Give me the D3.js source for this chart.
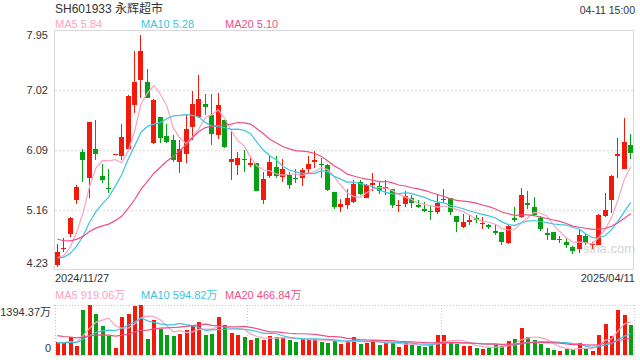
<!DOCTYPE html>
<html><head><meta charset="utf-8">
<script src="https://cdn.jsdelivr.net/npm/d3@7"></script>
<style>
html,body{margin:0;padding:0;background:#fff;}
svg{display:block;font-family:Arial,"Liberation Sans","Noto Sans CJK SC",sans-serif;}
</style></head>
<body><svg id="c" width="640" height="360"></svg>
<script>
// ---------- data ----------
const dates = [
"2024-11-27","2024-11-28","2024-11-29",
"2024-12-02","2024-12-03","2024-12-04","2024-12-05","2024-12-06","2024-12-09","2024-12-10","2024-12-11","2024-12-12","2024-12-13",
"2024-12-16","2024-12-17","2024-12-18","2024-12-19","2024-12-20","2024-12-23","2024-12-24","2024-12-25","2024-12-26","2024-12-27","2024-12-30","2024-12-31",
"2025-01-02","2025-01-03","2025-01-06","2025-01-07","2025-01-08","2025-01-09","2025-01-10","2025-01-13","2025-01-14","2025-01-15","2025-01-16","2025-01-17",
"2025-01-20","2025-01-21","2025-01-22","2025-01-23","2025-01-24","2025-01-27",
"2025-02-05","2025-02-06","2025-02-07","2025-02-10","2025-02-11","2025-02-12","2025-02-13","2025-02-14","2025-02-17","2025-02-18","2025-02-19","2025-02-20","2025-02-21",
"2025-02-24","2025-02-25","2025-02-26","2025-02-27","2025-02-28",
"2025-03-03","2025-03-04","2025-03-05","2025-03-06","2025-03-07","2025-03-10","2025-03-11","2025-03-12","2025-03-13","2025-03-14",
"2025-03-17","2025-03-18","2025-03-19","2025-03-20","2025-03-21","2025-03-24","2025-03-25","2025-03-26","2025-03-27","2025-03-28","2025-03-31",
"2025-04-01","2025-04-02","2025-04-03","2025-04-07","2025-04-08","2025-04-09","2025-04-10","2025-04-11"];

const open = [4.31,4.55,4.79,5.31,6.06,5.66,6.11,5.69,5.50,6.03, 6.00,6.11,6.78,7.17,7.14,6.20,6.60,6.31,6.24,5.91,
 6.03,6.44,6.60,6.80,6.64,6.32,6.56,5.91,5.86,5.95, 5.86,5.89,5.31,5.68,5.82,5.67,5.71,5.66,5.65,5.80,
 5.90,5.88,5.86,5.44,5.21,5.24,5.28,5.60,5.35,5.55, 5.53,5.48,5.48,5.23,5.25,5.34,5.23,5.17,5.14,5.13,
 5.31,5.35,5.06,4.90,4.97,5.03,4.95,4.92,4.83,4.82, 4.65,5.04,5.05,5.27,5.20,5.04,4.80,4.82,4.70,4.67,
 4.59,4.56,4.75,4.61,4.62,5.06,5.31,6.00,5.80,6.16];
const high = [4.63,4.72,5.05,5.55,6.10,6.53,6.56,5.87,5.80,6.03, 6.50,6.95,7.62,7.88,7.35,6.88,6.60,6.50,6.33,6.25,
 6.65,7.00,7.26,6.96,6.96,6.97,6.56,6.39,6.06,6.09, 5.99,5.89,5.75,6.00,6.00,5.95,5.75,5.79,5.81,6.00,
 6.07,5.97,5.87,5.44,5.33,5.49,5.63,5.62,5.56,5.73, 5.60,5.63,5.48,5.31,5.45,5.39,5.32,5.29,5.24,5.41,
 5.49,5.35,5.06,5.10,5.09,5.08,5.05,4.94,4.93,4.82, 4.92,5.21,5.50,5.45,5.36,5.06,4.88,4.82,4.75,4.73,
 4.60,4.87,4.79,4.67,5.10,5.42,5.71,6.28,6.59,6.34];
const low = [4.28,4.51,4.74,5.26,5.60,5.35,5.93,5.58,5.43,6.03, 5.93,6.10,6.66,6.90,6.89,6.19,6.20,6.20,5.90,5.74,
 5.89,6.24,6.59,6.63,6.16,6.26,6.12,5.62,5.70,5.75, 5.82,5.45,5.26,5.65,5.65,5.60,5.49,5.58,5.53,5.72,
 5.81,5.66,5.45,5.18,5.13,5.17,5.27,5.39,5.34,5.45, 5.41,5.40,5.19,5.13,5.21,5.19,5.19,5.13,5.01,5.10,
 5.27,5.08,4.82,4.88,4.93,4.96,4.87,4.87,4.77,4.62, 4.63,4.98,5.04,5.17,5.06,4.84,4.69,4.69,4.65,4.57,
 4.48,4.49,4.62,4.56,4.61,5.05,5.11,5.66,5.79,5.95];
const close = [4.51,4.57,5.03,5.52,5.94,6.53,6.03,5.62,5.49,6.03, 6.29,6.93,7.14,7.62,6.89,6.87,6.27,6.22,5.93,6.11,
 6.41,6.80,6.88,6.76,6.34,6.78,6.13,5.95,5.97,5.94, 5.89,5.46,5.64,5.91,5.69,5.80,5.55,5.65,5.78,5.87,
 5.94,5.86,5.47,5.20,5.26,5.35,5.56,5.41,5.55,5.58, 5.45,5.51,5.23,5.24,5.37,5.27,5.21,5.15,5.13,5.27,
 5.33,5.13,4.97,4.97,5.01,5.01,4.96,4.90,4.81,4.67, 4.91,5.00,5.39,5.23,5.09,4.86,4.77,4.70,4.71,4.61,
 4.52,4.77,4.65,4.63,5.08,5.16,5.68,6.03,6.21,6.05];
// volume, in 万 shares
const volume = [372,325,493,251,1255,1394.37,1153,809,530,195, 1060,1153,1376,1390,446,976,734,558,530,595,
 697,837,920,558,595,1060,837,623,558,502, 428,474,418,530,502,493,418,372,446,446,
 437,372,344,400,307,390,493,307,325,418, 279,344,344,223,325,279,251,223,279,558,
 558,344,307,251,251,186,167,205,279,251, 390,446,753,502,418,307,195,139,112,167,
 149,335,167,112,558,874,530,1255,1115,837];
// closes and volumes of the 19 sessions before the window (estimated from where the MA lines start)
const priorClose = [5.10,5.05,5.08,5.02,4.98,5.00,4.95,4.92,4.96,4.94, 4.50,4.45,4.40,4.38,4.36, 4.42,4.38,4.40,4.40];
const priorVolume = [800,760,700,820,690,750,700,680,720,720, 360,330,350,340,340, 320,350,330,348];

const priceTicks = [7.95,7.02,6.09,5.16,4.23];
const volTickLabels = ["1394.37万","0"];
const title = "SH601933 永辉超市";
const timeLabel = "04-11 15:00";
const maPeriods = [5,10,20];
const maPriceLabels = ["MA5 5.84","MA10 5.28","MA20 5.10"];
const maVolLabels = ["MA5 919.06万","MA10 594.82万","MA20 466.84万"];

// ---------- styles ----------
const UP = "#f31a0b", DOWN = "#07a014";
const maColors = ["#fba3c0","#3bc5e3","#ef4f86"];

const svg = d3.select("#c");
const L = 54, R = 634, T = 30, B = 270;
const VT = 305, VB = 355;

const x = d3.scaleBand().domain(dates).range([L, R]).paddingInner(0.22).paddingOuter(0.11);
const y = d3.scaleLinear().domain([4.23, 7.95]).range([B, T]);
const yv = d3.scaleLinear().domain([0, d3.max(volume)]).range([VB, VT]);
const cx = d => x(d) + x.bandwidth() / 2;

function movingAvg(prior, vals, n) {
  const all = prior.concat(vals);
  const off = prior.length;
  return vals.map((v, i) => d3.mean(all.slice(off + i - n + 1, off + i + 1)));
}

// header texts
svg.append("text").attr("x", 55).attr("y", 13).attr("font-size", 12).attr("fill", "#333").text(title);
svg.append("text").attr("x", 635).attr("y", 14).attr("text-anchor", "end").attr("font-size", 10.5).attr("fill", "#333").text(timeLabel);
const labelX = [55, 141, 225];
maPriceLabels.forEach((t, k) => svg.append("text").attr("x", labelX[k]).attr("y", 28).attr("font-size", 11).attr("fill", maColors[k]).text(t));

// main frame + grid
svg.append("rect").attr("x", L + 0.5).attr("y", T + 0.5).attr("width", R - L - 1).attr("height", B - T - 1)
  .attr("fill", "none").attr("stroke", "#d8d8d8");
svg.append("g").selectAll("line").data(priceTicks.slice(1, -1)).join("line")
  .attr("x1", L + 1).attr("x2", R - 1).attr("y1", d => Math.round(y(d)) + 0.5).attr("y2", d => Math.round(y(d)) + 0.5)
  .attr("stroke", "#e2e2e2").attr("stroke-width", 1.5).attr("stroke-dasharray", "2,2");

// y axis
const yAxis = svg.append("g").attr("transform", `translate(${L - 3},0)`)
  .call(d3.axisLeft(y).tickValues(priceTicks).tickSize(0).tickFormat(d3.format(".2f")));
yAxis.select(".domain").remove();
yAxis.selectAll(".tick").attr("transform", d => `translate(0,${Math.min(Math.max(y(d), T + 5.5), B - 6.5)})`);
yAxis.selectAll("text").attr("font-size", 11).attr("fill", "#333").attr("font-family", "Arial,'Liberation Sans',sans-serif");

// watermark
svg.append("text").attr("x", 583).attr("y", 253).attr("font-size", 13).attr("fill", "#d4d4d4").text("sina.com");

// candles
const idx = d3.range(dates.length);
const isUp = i => close[i] >= open[i];
const g = svg.append("g").attr("shape-rendering", "crispEdges");
g.selectAll("line.w").data(idx).join("line").attr("class", "w")
  .attr("x1", i => Math.floor(cx(dates[i])) + 0.5).attr("x2", i => Math.floor(cx(dates[i])) + 0.5)
  .attr("y1", i => y(high[i])).attr("y2", i => y(low[i]))
  .attr("stroke", i => isUp(i) ? UP : DOWN);
g.selectAll("rect.b").data(idx).join("rect").attr("class", "b")
  .attr("x", i => Math.floor(cx(dates[i])) - 2).attr("width", 5)
  .attr("y", i => Math.min(y(open[i]), y(close[i])))
  .attr("height", i => Math.max(1, Math.abs(y(open[i]) - y(close[i]))))
  .attr("fill", i => isUp(i) ? UP : DOWN);

// price MA lines
const lineP = d3.line().x((d, i) => cx(dates[i])).y(d => y(d));
maPeriods.forEach((n, k) => {
  svg.append("path").datum(movingAvg(priorClose, close, n)).attr("d", lineP)
    .attr("fill", "none").attr("stroke", maColors[k]).attr("stroke-width", 1.2);
});

// date labels
svg.append("text").attr("x", 55).attr("y", 282).attr("font-size", 11).attr("fill", "#333").text(dates[0].replace(/-/g, "/"));
svg.append("text").attr("x", 635).attr("y", 282).attr("text-anchor", "end").attr("font-size", 11).attr("fill", "#333").text(dates[dates.length - 1].replace(/-/g, "/"));

// volume panel
maVolLabels.forEach((t, k) => svg.append("text").attr("x", labelX[k]).attr("y", 299).attr("font-size", 11).attr("fill", maColors[k]).text(t));
const vg = svg.append("g").attr("stroke", "#c8c8c8").attr("stroke-dasharray", "1,2").attr("fill", "none");
vg.append("line").attr("x1", L).attr("x2", R).attr("y1", VT + 0.5).attr("y2", VT + 0.5);
vg.append("line").attr("x1", L).attr("x2", R).attr("y1", VB + 0.5).attr("y2", VB + 0.5);
[L + 0.5, L + (R - L) / 3, L + 2 * (R - L) / 3, R - 0.5].forEach(xx =>
  vg.append("line").attr("x1", Math.round(xx) + 0.5).attr("x2", Math.round(xx) + 0.5).attr("y1", VT).attr("y2", VB));
svg.append("text").attr("x", 51).attr("y", 316).attr("text-anchor", "end").attr("font-size", 11).attr("fill", "#333").text(volTickLabels[0]);
svg.append("text").attr("x", 51).attr("y", 352).attr("text-anchor", "end").attr("font-size", 11).attr("fill", "#333").text(volTickLabels[1]);

svg.append("g").attr("shape-rendering", "crispEdges").selectAll("rect").data(idx).join("rect")
  .attr("x", i => Math.floor(cx(dates[i])) - 1.5).attr("width", 4)
  .attr("y", i => yv(volume[i])).attr("height", i => VB - yv(volume[i]))
  .attr("fill", i => isUp(i) ? UP : DOWN);

const lineV = d3.line().x((d, i) => cx(dates[i])).y(d => yv(d));
maPeriods.forEach((n, k) => {
  svg.append("path").datum(movingAvg(priorVolume, volume, n)).attr("d", lineV)
    .attr("fill", "none").attr("stroke", maColors[k]).attr("stroke-width", 1.2);
});
</script></body></html>
